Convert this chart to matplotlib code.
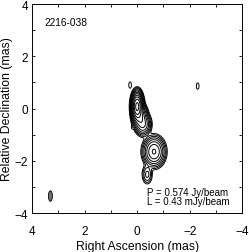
import numpy as np
import matplotlib
matplotlib.use("Agg")
import matplotlib.pyplot as plt
from matplotlib.patches import Ellipse
from matplotlib.ticker import MultipleLocator

plt.rcParams['font.family'] = ['Liberation Sans', 'DejaVu Sans']

# Gaussian model components (RA, Dec in mas; amplitude in Jy/beam; sigmas in mas)
comp_ra = [0.00, -0.10, -0.22, -0.64, -0.38, 0.27, -2.30, 0.19]
comp_dec = [0.08, -0.30, -0.60, -1.65, -2.52, 0.90, 0.86, -0.72]
comp_amp = [0.52, 0.06, 0.03, 0.055, 0.004, 0.0006, 0.0006, 0.00048]
comp_sx = [0.08, 0.11, 0.12, 0.16, 0.09, 0.055, 0.055, 0.03]
comp_sy = [0.20, 0.19, 0.17, 0.22, 0.17, 0.13, 0.13, 0.06]

peak = 0.574        # Jy/beam
lowest = 0.43e-3    # Jy/beam
n_levels = 11

beam_ra, beam_dec = 3.3, -3.35
beam_w, beam_h = 0.15, 0.40

ra = np.linspace(4, -4, 801)
dec = np.linspace(-4, 4, 801)
RA, DEC = np.meshgrid(ra, dec)
img = np.zeros_like(RA)
for x0, y0, a, sx, sy in zip(comp_ra, comp_dec, comp_amp, comp_sx, comp_sy):
    img += a * np.exp(-0.5 * (((RA - x0) / sx) ** 2 + ((DEC - y0) / sy) ** 2))
img *= peak / img.max()

levels = lowest * 2.0 ** np.arange(n_levels)

fig = plt.figure(figsize=(2.49, 2.53), dpi=100)
ax = fig.add_axes([0.1285, 0.154, 0.845, 0.826])
ax.contour(RA, DEC, img, levels=levels, colors='black', linewidths=0.7)
ax.add_patch(Ellipse((beam_ra, beam_dec), beam_w, beam_h, facecolor='0.45',
                     edgecolor='black', linewidth=0.6))

ax.set_xlim(4, -4)
ax.set_ylim(-4, 4)
ax.set_aspect('auto')
ax.xaxis.set_major_locator(MultipleLocator(2))
ax.yaxis.set_major_locator(MultipleLocator(2))
ax.xaxis.set_minor_locator(MultipleLocator(1))
ax.yaxis.set_minor_locator(MultipleLocator(1))
ax.tick_params(which='both', direction='in', top=True, right=True, length=2.5,
               width=0.6, labelsize=8.5)
ax.tick_params(axis='x', pad=8.5)
ax.tick_params(axis='y', pad=3)
for s in ax.spines.values():
    s.set_linewidth(0.7)

ax.set_xlabel('Right Ascension (mas)', fontsize=8.8, labelpad=2)
ax.set_ylabel('Relative Declination (mas)', fontsize=8.8, labelpad=1)

ax.text(0.06, 0.915, '2216-038', transform=ax.transAxes, fontsize=7.3, va='center')
ax.text(0.545, 0.10, 'P = 0.574 Jy/beam', transform=ax.transAxes, fontsize=7, va='center')
ax.text(0.545, 0.058, 'L = 0.43 mJy/beam', transform=ax.transAxes, fontsize=7, va='center')

fig.savefig('out.png', dpi=100)
